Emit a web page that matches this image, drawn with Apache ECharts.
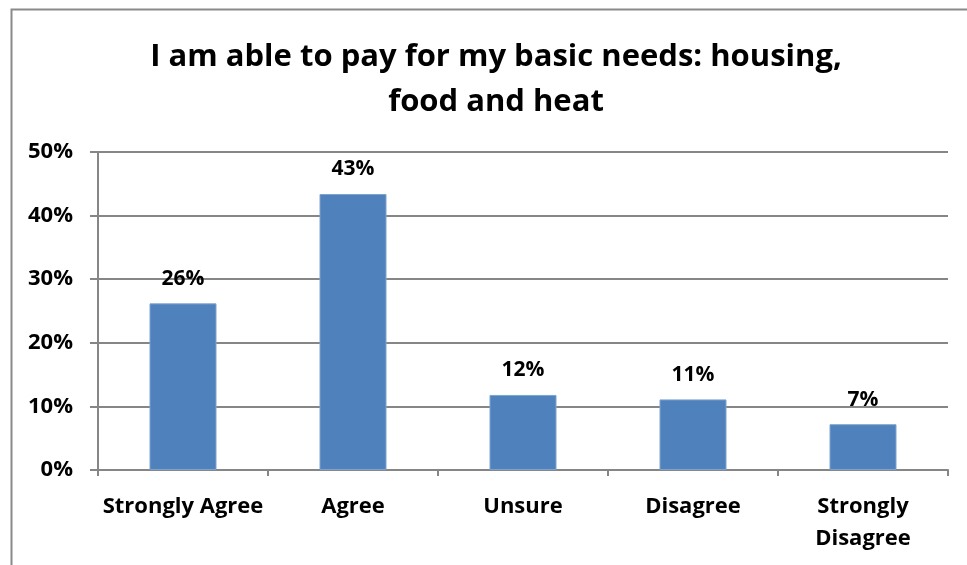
<!DOCTYPE html>
<html>
<head>
<meta charset="utf-8">
<script src="https://cdn.jsdelivr.net/npm/echarts@6/dist/echarts.min.js"></script>
<style>html,body{margin:0;padding:0;background:#fff}#c{width:967px;height:565px}</style>
</head>
<body>
<div id="c"></div>
<script>
var titleText = 'I am able to pay for my basic needs: housing,\nfood and heat';
var categories = ['Strongly Agree', 'Agree', 'Unsure', 'Disagree', 'Strongly\nDisagree'];
var values = [26.2, 43.4, 11.8, 11.1, 7.2];
var yTicks = [0, 10, 20, 30, 40, 50];

var FONT = '"Open Sans"';
var chart = echarts.init(document.getElementById('c'), null, {renderer: 'canvas'});
chart.setOption({
  animation: false,
  backgroundColor: '#fff',
  graphic: [{
    type: 'rect', left: 9, top: 7, z: -1,
    shape: {width: 980, height: 600},
    style: {fill: 'none', stroke: '#8a8a8a', lineWidth: 2}
  }],
  title: {
    text: titleText,
    left: 491, top: 30, textAlign: 'center',
    textStyle: {fontFamily: FONT, fontWeight: 'bold', fontSize: 31, color: '#000', lineHeight: 45}
  },
  grid: {left: 98, right: 19, top: 152, bottom: 95, containLabel: false},
  xAxis: {
    type: 'category', data: categories,
    axisLine: {show: true, lineStyle: {color: '#868686', width: 2}},
    axisTick: {show: true, alignWithLabel: false, length: 6, lineStyle: {color: '#868686', width: 2}},
    axisLabel: {fontFamily: FONT, fontWeight: 'bold', fontSize: 22, color: '#000', margin: 21, lineHeight: 32, interval: 0}
  },
  yAxis: {
    type: 'value', min: 0, max: 50, interval: 10,
    axisLine: {show: true, lineStyle: {color: '#868686', width: 2}},
    axisTick: {show: true, length: 8, lineStyle: {color: '#868686', width: 2}},
    splitLine: {show: true, lineStyle: {color: '#868686', width: 2}},
    axisLabel: {fontFamily: FONT, fontWeight: 'bold', fontSize: 22, color: '#000', margin: 25,
      formatter: function (v) { return yTicks.indexOf(v) >= 0 ? v + '%' : ''; }}
  },
  series: [{
    type: 'bar', data: values, barWidth: 67,
    itemStyle: {color: '#4F81BD', borderColor: '#7EA3CF', borderWidth: 1},
    label: {show: true, position: 'top', distance: 14, fontFamily: FONT, fontWeight: 'bold', fontSize: 21, color: '#000',
      formatter: function (p) { return Math.round(p.value) + '%'; }}
  }]
});
</script>
</body>
</html>
